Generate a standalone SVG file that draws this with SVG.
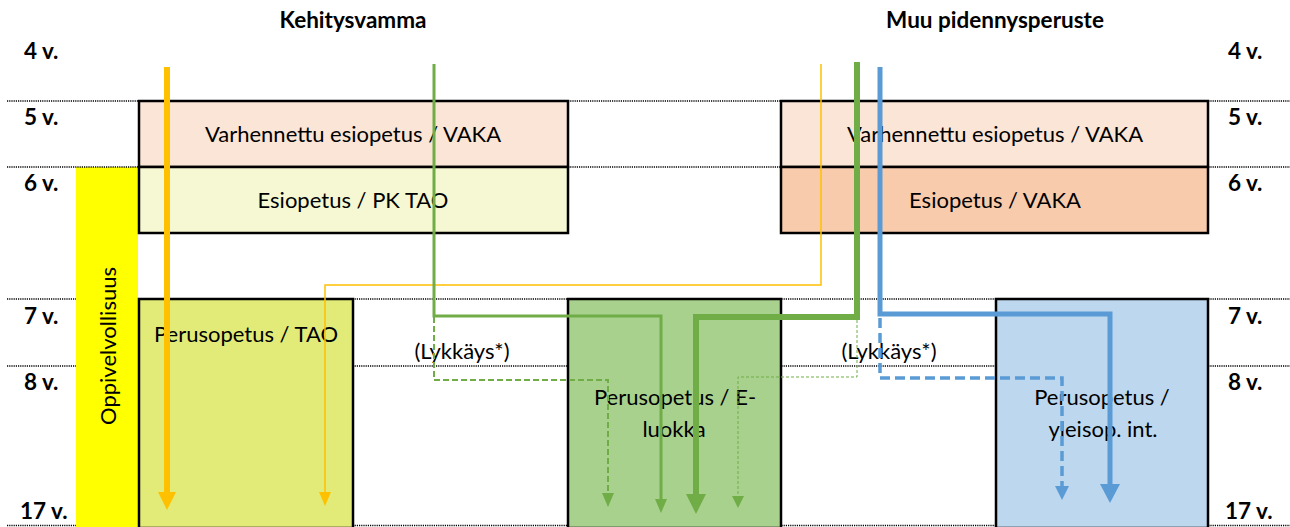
<svg xmlns="http://www.w3.org/2000/svg" width="1290" height="527" viewBox="0 0 1290 527">
<style>
.grid{stroke:#000;stroke-width:1.6;stroke-dasharray:1.2 1;fill:none}
.box{stroke:#000;stroke-width:2.5}
.age{font-family:Lato,"Liberation Sans",sans-serif;font-weight:bold;font-size:22.5px;fill:#000}
.ttl{font-family:Lato,"Liberation Sans",sans-serif;font-weight:bold;font-size:22.5px;fill:#000;text-anchor:middle}
.lbl{font-family:Lato,"Liberation Sans",sans-serif;font-size:22px;fill:#000;text-anchor:middle}
.con{fill:none;stroke-linejoin:miter}
</style>
<defs>
<marker id="hOt" markerUnits="userSpaceOnUse" markerWidth="18" markerHeight="18" viewBox="0 0 18 18" refX="1" refY="9" orient="auto"><path d="M0,0L18,9L0,18z" fill="#FFC000"/></marker>
<marker id="hOs" markerUnits="userSpaceOnUse" markerWidth="14" markerHeight="12" viewBox="0 0 14 12" refX="1" refY="6" orient="auto"><path d="M0,0L14,6L0,12z" fill="#FFC000"/></marker>
<marker id="hGm" markerUnits="userSpaceOnUse" markerWidth="14" markerHeight="12" viewBox="0 0 14 12" refX="1" refY="6" orient="auto"><path d="M0,0L14,6L0,12z" fill="#70AD47"/></marker>
<marker id="hGt" markerUnits="userSpaceOnUse" markerWidth="20" markerHeight="20" viewBox="0 0 20 20" refX="1" refY="10" orient="auto"><path d="M0,0L20,10L0,20z" fill="#70AD47"/></marker>
<marker id="hGs" markerUnits="userSpaceOnUse" markerWidth="12" markerHeight="12" viewBox="0 0 12 12" refX="1" refY="6" orient="auto"><path d="M0,0L12,6L0,12z" fill="#70AD47"/></marker>
<marker id="hBt" markerUnits="userSpaceOnUse" markerWidth="19" markerHeight="20" viewBox="0 0 19 20" refX="1" refY="10" orient="auto"><path d="M0,0L19,10L0,20z" fill="#5B9BD5"/></marker>
<marker id="hBd" markerUnits="userSpaceOnUse" markerWidth="14" markerHeight="14" viewBox="0 0 14 14" refX="1" refY="7" orient="auto"><path d="M0,0L14,7L0,14z" fill="#5B9BD5"/></marker>
</defs>
<rect width="1290" height="527" fill="#fff"/>

<g id="grid-lower">
<line class="grid" x1="7" y1="299" x2="1290" y2="299"/>
<line class="grid" x1="7" y1="366" x2="1290" y2="366"/>
<line class="grid" x1="7" y1="525.5" x2="1290" y2="525.5"/>
</g>

<g id="oppivelvollisuus">
<rect x="76" y="167" width="62" height="360" fill="#FFFF00"/>
<text class="lbl" transform="translate(116,346) rotate(-90)">Oppivelvollisuus</text>
</g>

<g id="grid-upper">
<line class="grid" x1="7" y1="101" x2="1290" y2="101"/>
<line class="grid" x1="7" y1="167" x2="1290" y2="167"/>
</g>

<g id="titles">
<text class="ttl" x="353" y="28">Kehitysvamma</text>
<text class="ttl" x="995" y="28">Muu pidennysperuste</text>
</g>

<g id="ages-left">
<text class="age" x="24" y="59">4 v.</text>
<text class="age" x="24" y="125">5 v.</text>
<text class="age" x="24" y="191">6 v.</text>
<text class="age" x="24" y="324">7 v.</text>
<text class="age" x="24" y="390">8 v.</text>
<text class="age" x="20" y="519">17 v.</text>
</g>
<g id="ages-right">
<text class="age" x="1228" y="59">4 v.</text>
<text class="age" x="1228" y="125">5 v.</text>
<text class="age" x="1228" y="191">6 v.</text>
<text class="age" x="1228" y="324">7 v.</text>
<text class="age" x="1228" y="390">8 v.</text>
<text class="age" x="1225" y="519">17 v.</text>
</g>

<g id="kv-varhennettu">
<rect class="box" x="139" y="101" width="429" height="66" fill="#FBE5D6"/>
<text class="lbl" x="353" y="142">Varhennettu esiopetus / VAKA</text>
</g>
<g id="kv-esiopetus">
<rect class="box" x="139" y="167" width="429" height="66" fill="#F5F8D2"/>
<text class="lbl" x="353" y="208">Esiopetus / PK TAO</text>
</g>
<g id="mp-varhennettu">
<rect class="box" x="781" y="101" width="427" height="66" fill="#FBE5D6"/>
<text class="lbl" x="995" y="142">Varhennettu esiopetus / VAKA</text>
</g>
<g id="mp-esiopetus">
<rect class="box" x="781" y="167" width="427" height="66" fill="#F8CBAD"/>
<text class="lbl" x="995" y="208">Esiopetus / VAKA</text>
</g>
<g id="perusopetus-tao">
<rect class="box" x="139" y="299" width="214" height="229" fill="#E2EB78"/>
<text class="lbl" x="246" y="342">Perusopetus / TAO</text>
</g>
<g id="perusopetus-eluokka">
<rect class="box" x="568" y="299" width="213" height="229" fill="#A9D18E"/>
<text class="lbl" x="675" y="405">Perusopetus / E-</text>
<text class="lbl" x="674" y="437">luokka</text>
</g>
<g id="perusopetus-yleisop">
<rect class="box" x="996" y="299" width="212" height="229" fill="#BDD7EE"/>
<text class="lbl" x="1102" y="405">Perusopetus /</text>
<text class="lbl" x="1103" y="437">yleisop. int.</text>
</g>
<g id="lykkays">
<text class="lbl" x="462" y="359">(Lykkäys*)</text>
<text class="lbl" x="889" y="359">(Lykkäys*)</text>
</g>

<g id="connectors">
<path class="con" d="M167,67V493" stroke="#FFC000" stroke-width="6" marker-end="url(#hOt)"/>
<path class="con" d="M821,64V285H325V493" stroke="#FFC000" stroke-width="1.5" marker-end="url(#hOs)"/>
<path class="con" d="M434,64V316H661V500" stroke="#70AD47" stroke-width="3" marker-end="url(#hGm)"/>
<path class="con" d="M434,317V380H608V494" stroke="#70AD47" stroke-width="2" stroke-dasharray="6 3" marker-end="url(#hGm)"/>
<path class="con" d="M857,62V317H696V495" stroke="#70AD47" stroke-width="6" marker-end="url(#hGt)"/>
<path class="con" d="M857,320V377H738V497" stroke="#70AD47" stroke-width="1" stroke-dasharray="3 2" marker-end="url(#hGs)"/>
<path class="con" d="M880,67V314H1110V485" stroke="#5B9BD5" stroke-width="5" marker-end="url(#hBt)"/>
<path class="con" d="M880,318V378H1062V487" stroke="#5B9BD5" stroke-width="3.5" stroke-dasharray="10 5" marker-end="url(#hBd)"/>
</g>
</svg>
